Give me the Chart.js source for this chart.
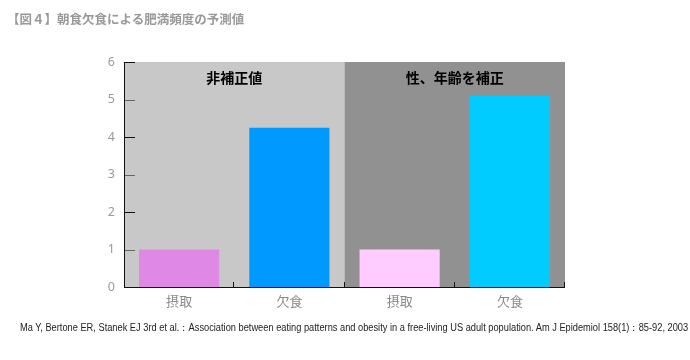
<!DOCTYPE html>
<html>
<head>
<meta charset="utf-8">
<script src="https://cdn.jsdelivr.net/npm/chart.js@4"></script>
<style>
  html, body { margin: 0; padding: 0; background: #fff; }
  #wrap { position: relative; width: 690px; height: 360px; }
  #title { position: absolute; left: 7px; top: 9px; font: bold 12.5px "Noto Sans CJK JP", sans-serif; color: #999; white-space: nowrap; }
  #note { position: absolute; left: 20px; top: 321px; font: 10px "Liberation Sans", sans-serif; color: #222; white-space: nowrap; transform-origin: 0 0; }
</style>
</head>
<body>
<div id="wrap">
  <canvas id="c" width="690" height="360"></canvas>
  <div id="title">【図４】朝食欠食による肥満頻度の予測値</div>
  <div id="note">Ma Y, Bertone ER, Stanek EJ 3rd et al.：Association between eating patterns and obesity in a free-living US adult population. Am J Epidemiol 158(1)：85-92, 2003</div>
</div>
<script>
// データ
const labels = ['摂取', '欠食', '摂取', '欠食'];
const values = [1, 4.25, 1, 5.1];
const barColors = ['#e088e6', '#0099ff', '#ffccff', '#00ccff'];
const groupNames = ['非補正値', '性、年齢を補正'];
const panelColors = ['#c8c8c8', '#919191'];

// 出典を幅に合わせて縮める
const note = document.getElementById('note');
note.style.transform = 'scaleX(' + (668 / note.scrollWidth) + ')';

// 背景パネルと目盛り線
const panelPlugin = {
  id: 'panels',
  beforeDatasetsDraw(chart) {
    const { ctx, chartArea: { top, bottom, left, right }, scales: { x } } = chart;
    const mid = (x.getPixelForValue(1) + x.getPixelForValue(2)) / 2;
    ctx.save();
    ctx.fillStyle = panelColors[0];
    ctx.fillRect(left, top, mid - left, bottom - top);
    ctx.fillStyle = panelColors[1];
    ctx.fillRect(mid, top, right - mid, bottom - top);
    ctx.fillStyle = '#000';
    ctx.font = 'bold 14px "Noto Sans CJK JP", sans-serif';
    ctx.textAlign = 'center';
    ctx.textBaseline = 'middle';
    ctx.fillText(groupNames[0], (left + mid) / 2, top + 16);
    ctx.fillText(groupNames[1], (mid + right) / 2, top + 16);
    ctx.restore();
  },
  afterDatasetsDraw(chart) {
    const { ctx, chartArea: { top, bottom, left, right }, scales: { x, y } } = chart;
    ctx.save();
    ctx.lineWidth = 1;
    // 目盛り(内向き)
    for (let v = 1; v <= 6; v++) {
      const py = Math.round(y.getPixelForValue(v)) + 0.5;
      ctx.strokeStyle = v % 2 ? '#666' : '#111';
      ctx.beginPath();
      ctx.moveTo(left, py);
      ctx.lineTo(left + 11, py);
      ctx.stroke();
    }
    ctx.strokeStyle = '#111';
    ctx.beginPath();
    ctx.moveTo(left + 0.5, top);
    ctx.lineTo(left + 0.5, bottom + 1);
    ctx.moveTo(left, bottom + 0.5);
    ctx.lineTo(right, bottom + 0.5);
    const step = x.getPixelForValue(1) - x.getPixelForValue(0);
    for (let i = 0; i < labels.length; i++) {
      const px = Math.round(x.getPixelForValue(i) + step / 2) - 0.5;
      ctx.moveTo(px, bottom);
      ctx.lineTo(px, bottom - 5);
    }
    ctx.stroke();
    ctx.restore();
  }
};

new Chart(document.getElementById('c'), {
  type: 'bar',
  data: {
    labels: labels,
    datasets: [{
      data: values,
      backgroundColor: barColors,
      barPercentage: 0.727,
      categoryPercentage: 1
    }]
  },
  options: {
    responsive: false,
    animation: false,
    layout: { padding: { left: 0, right: 125, top: 62, bottom: 43 } },
    plugins: { legend: { display: false }, tooltip: { enabled: false } },
    scales: {
      x: {
        grid: { display: false, drawTicks: false },
        border: { display: false },
        ticks: { color: '#888', font: { size: 13, family: '"Noto Sans CJK JP", sans-serif' }, padding: 6 },
        afterFit(s) { s.height = 30; }
      },
      y: {
        min: 0, max: 6,
        grid: { display: false, drawTicks: false },
        border: { display: false },
        ticks: { stepSize: 1, color: '#999', font: { size: 12.5, family: '"Noto Sans", sans-serif' }, padding: 9 },
        afterFit(s) { s.width = 124; }
      }
    }
  },
  plugins: [panelPlugin]
});
</script>
</body>
</html>
